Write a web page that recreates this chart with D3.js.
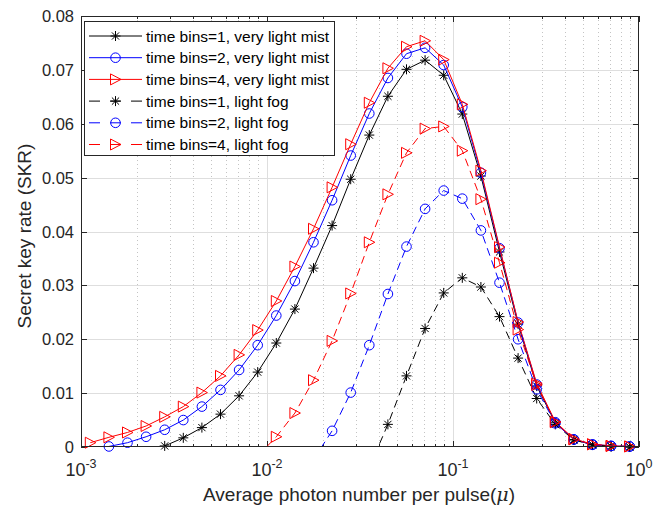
<!DOCTYPE html>
<html>
<head>
<meta charset="utf-8">
<script src="https://cdn.jsdelivr.net/npm/d3@7"></script>
<style>
  body { margin: 0; background: #fff; }
  svg { font-family: "Liberation Sans", Arial, sans-serif; }
</style>
</head>
<body>
<div id="chart"></div>
<script>
// x grid: mu = 10^(-2.95 + 0.1k), k = 0..29
var muExp = d3.range(30).map(function (k) { return -2.95 + 0.1 * k; });

// SKR values, indexed by k (null = no point)
var bins1Mist = [null, null, null, null, 0.0002, 0.0017, 0.0036, 0.0061, 0.0095, 0.0139,
    0.0193, 0.0256, 0.0332, 0.0411, 0.0497, 0.0579, 0.0651, 0.0701, 0.0718, 0.0690,
    0.0618, 0.0503, 0.0362, 0.0228, 0.0113, 0.0045, 0.0014, 0.0004, 0.0001, 0.0000];
var bins2Mist = [null, 0.0001, 0.0008, 0.0019, 0.0032, 0.0050, 0.0075, 0.0106, 0.0143, 0.0189,
    0.0244, 0.0308, 0.0380, 0.0458, 0.0541, 0.0619, 0.0685, 0.0730, 0.0741, 0.0709,
    0.0631, 0.0509, 0.0369, 0.0231, 0.0116, 0.0046, 0.0014, 0.0005, 0.0002, 0.0001];
var bins4Mist = [0.0008, 0.0018, 0.0027, 0.0039, 0.0056, 0.0075, 0.0101, 0.0132, 0.0171, 0.0217,
    0.0271, 0.0335, 0.0405, 0.0482, 0.0562, 0.0639, 0.0703, 0.0743, 0.0754, 0.0719,
    0.0636, 0.0513, 0.0371, 0.0232, 0.0118, 0.0047, 0.0015, 0.0005, 0.0002, 0.0001];
var bins1Fog = [null, null, null, null, null, null, null, null, null, null,
    null, null, null, null, null, -0.0038, 0.0042, 0.0132, 0.0220, 0.0286,
    0.0314, 0.0297, 0.0242, 0.0165, 0.0090, 0.0042, 0.0013, 0.0004, 0.0001, 0.0000];
var bins2Fog = [null, null, null, null, null, null, null, null, null, null,
    null, null, -0.0023, 0.0030, 0.0101, 0.0189, 0.0284, 0.0372, 0.0442, 0.0476,
    0.0461, 0.0402, 0.0305, 0.0200, 0.0107, 0.0044, 0.0014, 0.0004, 0.0002, 0.0001];
var bins4Fog = [null, null, null, null, null, null, null, null, null, -0.0017,
    0.0019, 0.0063, 0.0124, 0.0197, 0.0285, 0.0380, 0.0469, 0.0546, 0.0591, 0.0595,
    0.0550, 0.0460, 0.0342, 0.0218, 0.0115, 0.0046, 0.0014, 0.0005, 0.0002, 0.0001];

var seriesNames = ["time bins=1, very light mist", "time bins=2, very light mist", "time bins=4, very light mist",
    "time bins=1, light fog", "time bins=2, light fog", "time bins=4, light fog"];
var seriesValues = [bins1Mist, bins2Mist, bins4Mist, bins1Fog, bins2Fog, bins4Fog];
var seriesColors = ["#000000", "#0000ff", "#ff0000", "#000000", "#0000ff", "#ff0000"];
var seriesMarkers = ["star", "circle", "triangle", "star", "circle", "triangle"];
var seriesDashed = [false, false, false, true, true, true];

var yTicks = [0, 0.01, 0.02, 0.03, 0.04, 0.05, 0.06, 0.07, 0.08];
var xTickExps = [-3, -2, -1, 0];

var width = 669, height = 506;
var plotL = 81, plotR = 639, plotT = 16, plotB = 447;
var axisColor = "#262626";

var svg = d3.select("#chart").append("svg")
    .attr("width", width)
    .attr("height", height);

var x = d3.scaleLog().domain([1e-3, 1]).range([plotL, plotR]);
var y = d3.scaleLinear().domain([0, 0.08]).range([plotB, plotT]);

// grid
var minorX = [];
xTickExps.slice(0, 3).forEach(function (e) {
    for (var m = 2; m <= 9; m++) minorX.push(m * Math.pow(10, e));
});
svg.append("g").selectAll("line")
    .data(minorX)
    .enter().append("line")
    .attr("x1", function (d) { return Math.round(x(d)) + 0.5; })
    .attr("x2", function (d) { return Math.round(x(d)) + 0.5; })
    .attr("y1", plotT).attr("y2", plotB)
    .attr("stroke", "#c4c4c4")
    .attr("stroke-dasharray", "1,3");
svg.append("g").selectAll("line")
    .data(xTickExps.slice(1, 3))
    .enter().append("line")
    .attr("x1", function (d) { return Math.round(x(Math.pow(10, d))) + 0.5; })
    .attr("x2", function (d) { return Math.round(x(Math.pow(10, d))) + 0.5; })
    .attr("y1", plotT).attr("y2", plotB)
    .attr("stroke", "#dedede");
svg.append("g").selectAll("line")
    .data(yTicks.slice(1, -1))
    .enter().append("line")
    .attr("x1", plotL).attr("x2", plotR)
    .attr("y1", function (d) { return Math.round(y(d)) + 0.5; })
    .attr("y2", function (d) { return Math.round(y(d)) + 0.5; })
    .attr("stroke", "#dedede");

// ticks (inward, all four sides)
var ticks = svg.append("g").attr("stroke", axisColor);
yTicks.forEach(function (d) {
    var yy = Math.round(y(d)) + 0.5;
    ticks.append("line").attr("x1", plotL).attr("x2", plotL + 6).attr("y1", yy).attr("y2", yy);
    ticks.append("line").attr("x1", plotR - 6).attr("x2", plotR).attr("y1", yy).attr("y2", yy);
});
xTickExps.forEach(function (e) {
    var xx = Math.round(x(Math.pow(10, e))) + 0.5;
    ticks.append("line").attr("x1", xx).attr("x2", xx).attr("y1", plotB).attr("y2", plotB - 6);
    ticks.append("line").attr("x1", xx).attr("x2", xx).attr("y1", plotT).attr("y2", plotT + 6);
});
minorX.forEach(function (d) {
    var xx = Math.round(x(d)) + 0.5;
    ticks.append("line").attr("x1", xx).attr("x2", xx).attr("y1", plotB).attr("y2", plotB - 3);
    ticks.append("line").attr("x1", xx).attr("x2", xx).attr("y1", plotT).attr("y2", plotT + 3);
});

// tick labels
svg.append("g").selectAll("text")
    .data(yTicks)
    .enter().append("text")
    .attr("x", plotL - 7)
    .attr("y", function (d) { return y(d) + 6; })
    .attr("text-anchor", "end")
    .attr("font-size", 16.5)
    .attr("fill", axisColor)
    .text(function (d) { return d === 0 ? "0" : d.toFixed(2); });

var xl = svg.append("g").selectAll("text")
    .data(xTickExps)
    .enter().append("text")
    .attr("x", function (d) { return x(Math.pow(10, d)); })
    .attr("y", 476)
    .attr("text-anchor", "middle")
    .attr("font-size", 18)
    .attr("fill", axisColor);
xl.append("tspan").text("10");
xl.append("tspan").attr("dy", -8).attr("font-size", 12.5).text(function (d) { return d; });

// axis titles
svg.append("text")
    .attr("x", 359).attr("y", 501)
    .attr("text-anchor", "middle")
    .attr("font-size", 19)
    .attr("fill", axisColor)
    .html('Average photon number per pulse(<tspan font-style="italic" font-family="DejaVu Serif">μ</tspan>)');
svg.append("text")
    .attr("transform", "translate(31,236) rotate(-90)")
    .attr("text-anchor", "middle")
    .attr("font-size", 19)
    .attr("fill", axisColor)
    .text("Secret key rate (SKR)");

// markers
function markerPath(type) {
    if (type === "star") return "M-5,0H5M0,-5V5M-3.6,-3.6L3.6,3.6M-3.6,3.6L3.6,-3.6";
    if (type === "triangle") return "M-5,-5.5L5.5,0L-5,5.5Z";
    return null;
}
function drawMarker(g, type, color, cx, cy) {
    if (type === "circle") {
        g.append("circle").attr("cx", cx).attr("cy", cy).attr("r", 4.8)
            .attr("fill", "none").attr("stroke", color).attr("stroke-width", 1);
    } else {
        g.append("path").attr("d", markerPath(type))
            .attr("transform", "translate(" + cx + "," + cy + ")")
            .attr("fill", "none").attr("stroke", color).attr("stroke-width", 1);
    }
}

svg.append("clipPath").attr("id", "plotclip")
    .append("rect").attr("x", plotL).attr("y", plotT)
    .attr("width", plotR - plotL).attr("height", plotB - plotT);

var line = d3.line()
    .defined(function (d) { return d.v !== null; })
    .x(function (d) { return x(Math.pow(10, d.e)); })
    .y(function (d) { return y(d.v); });

seriesValues.forEach(function (vals, i) {
    var pts = vals.map(function (v, k) { return { e: muExp[k], v: v }; });
    var g = svg.append("g");
    g.append("path")
        .attr("clip-path", "url(#plotclip)")
        .attr("d", line(pts))
        .attr("fill", "none")
        .attr("stroke", seriesColors[i])
        .attr("stroke-width", 1)
        .attr("stroke-dasharray", seriesDashed[i] ? "8,5" : null);
    pts.filter(function (d) { return d.v !== null && d.v >= 0; }).forEach(function (d) {
        drawMarker(g, seriesMarkers[i], seriesColors[i], x(Math.pow(10, d.e)), y(d.v));
    });
});

// axis box
svg.append("rect")
    .attr("x", plotL + 0.5).attr("y", plotT + 0.5)
    .attr("width", plotR - plotL - 1).attr("height", plotB - plotT - 1)
    .attr("fill", "none").attr("stroke", axisColor);

// legend
var lg = svg.append("g");
lg.append("rect")
    .attr("x", 84.5).attr("y", 21.5).attr("width", 250).attr("height", 134)
    .attr("fill", "#fff").attr("stroke", axisColor);
seriesNames.forEach(function (name, i) {
    var ly = 36 + i * 21.7;
    lg.append("line")
        .attr("x1", 89).attr("x2", 142).attr("y1", ly).attr("y2", ly)
        .attr("stroke", seriesColors[i])
        .attr("stroke-dasharray", seriesDashed[i] ? "11,10" : null);
    drawMarker(lg, seriesMarkers[i], seriesColors[i], 115.5, ly);
    lg.append("text")
        .attr("x", 146).attr("y", ly + 5.5)
        .attr("font-size", 15.5)
        .attr("fill", "#000")
        .text(name);
});
</script>
</body>
</html>
